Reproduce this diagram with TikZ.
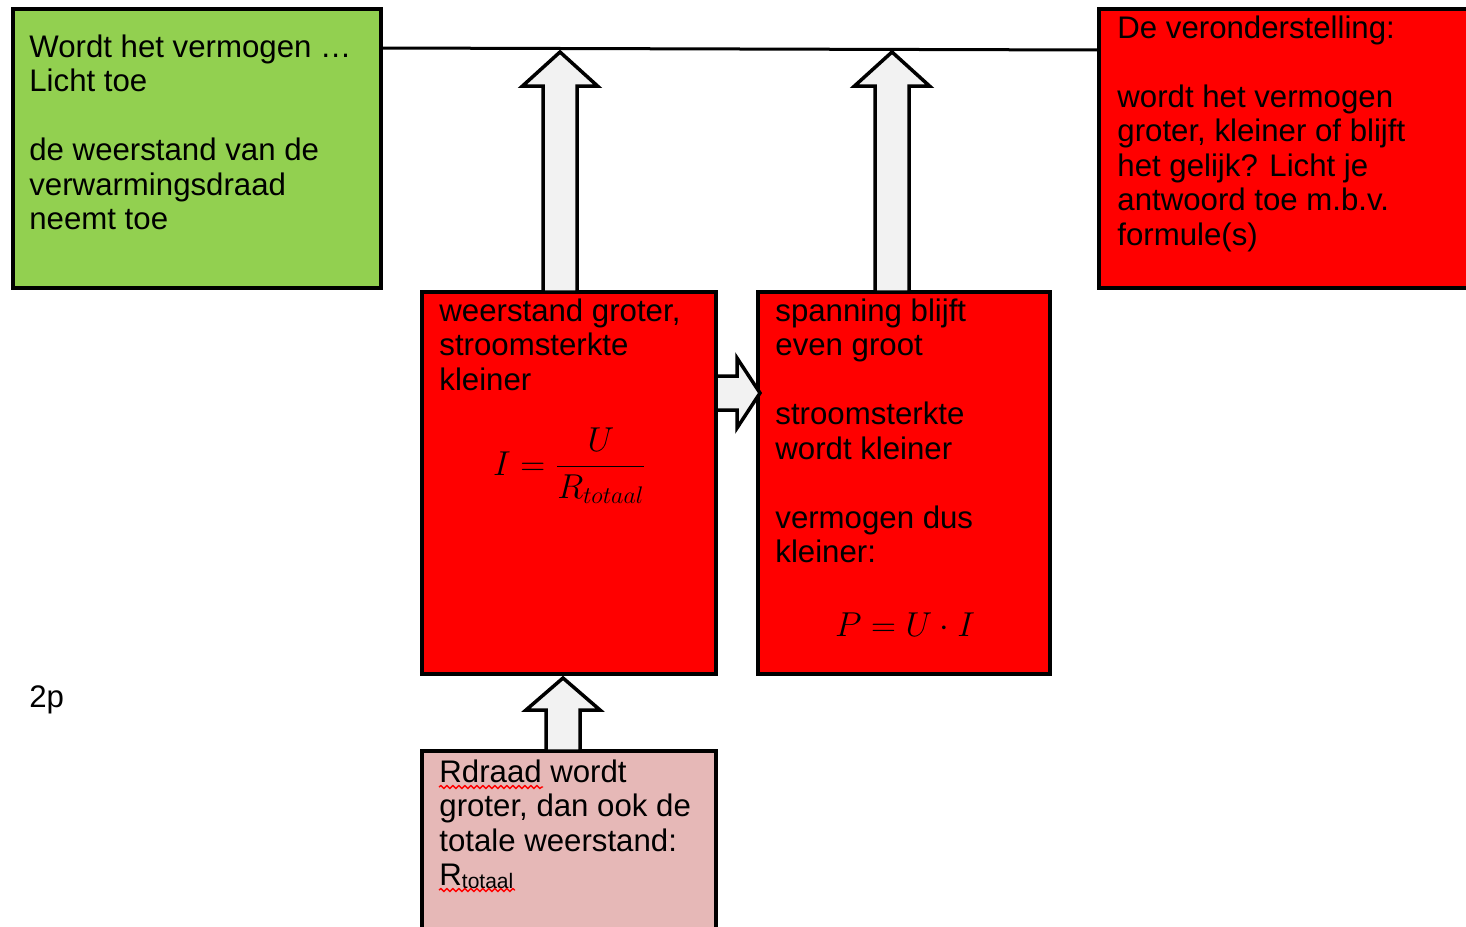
\documentclass[tikz,border=0pt]{standalone}
\usepackage{amsmath}
\usepackage{fontspec}
\setmainfont{Liberation Sans}
\usetikzlibrary{calc,decorations.pathmorphing}
\definecolor{gbox}{HTML}{92D050}
\definecolor{rbox}{HTML}{FF0000}
\definecolor{pbox}{HTML}{E6B8B7}
\definecolor{afill}{HTML}{F2F2F2}
\newcommand\blkup[5]{\draw[blk] ($(#1)+(-#3,0)$) -- ($(#2)+(-#3,#5)$) -- ($(#2)+(-#4,#5)$) -- (#2) -- ($(#2)+(#4,#5)$) -- ($(#2)+(#3,#5)$) -- ($(#1)+(#3,0)$) -- cycle;}
\newcommand\blkright[5]{\draw[blk] ($(#1)+(0,-#3)$) -- ($(#2)+(-#5,-#3)$) -- ($(#2)+(-#5,-#4)$) -- (#2) -- ($(#2)+(-#5,#4)$) -- ($(#2)+(-#5,#3)$) -- ($(#1)+(0,#3)$) -- cycle;}
\newcommand\fs{\vrule height 12pt width 0pt\relax}
\tikzset{
  box/.style={draw, line width=2pt, anchor=north west, inner sep=0pt, outer sep=0pt},
  blk/.style={draw, fill=afill, line width=1.75pt, line join=miter},
  txt/.style={anchor=north west, inner sep=0pt, align=left, font=\fontsize{15.6pt}{17.25pt}\selectfont},
  mth/.style={inner sep=0pt, font=\fontsize{16.5pt}{18pt}\selectfont},
  topline/.style={line width=1.5pt},
  spell/.style={red, line width=0.7pt, decorate, decoration={snake, amplitude=0.7pt, segment length=3pt}}
}
\begin{document}
\begin{tikzpicture}[x=0.5pt,y=-0.5pt]
\fill[white] (0,0) rectangle (1466,926);
\useasboundingbox (0,0) rectangle (1466,926);
% boxes
\node[box, fill=gbox, minimum width=184pt, minimum height=139.5pt] (green) at (13,9) {};
\node[box, fill=rbox, minimum width=200pt, minimum height=139.5pt] (redR) at (1099,9) {};
\node[box, fill=rbox, minimum width=147pt, minimum height=191pt] (midL) at (422,292) {};
\node[box, fill=rbox, minimum width=146pt, minimum height=191pt] (midR) at (758,292) {};
\node[box, fill=pbox, minimum width=147pt, minimum height=100pt] (pink) at (422,751) {};
% top line
\coordinate (lineL) at (383,48);
\coordinate (lineR) at (1097,50);
\draw[topline] (green.north east |- lineL) -- (redR.north west |- lineR);
% block arrows
\coordinate (a1b) at ($(midL.north west)+(138,0)$);
\coordinate (a1t) at (a1b |- 0,52);
\blkup{a1b}{a1t}{17}{37.5}{34}
\coordinate (a2b) at ($(midR.north west)+(134,0)$);
\coordinate (a2t) at (a2b |- 0,52);
\blkup{a2b}{a2t}{17}{37.5}{34}
\coordinate (a3b) at ($(midL.north east)+(0,101)$);
\coordinate (a3t) at ($(midR.north west)+(2,101)$);
\blkright{a3b}{a3t}{17}{35}{23}
\coordinate (a4b) at ($(pink.north west)+(141,0)$);
\coordinate (a4t) at ($(midL.south west)+(141,4)$);
\blkup{a4b}{a4t}{17}{37}{32}
% texts
\node[txt] (tg) at (29,33) {\fs Wordt het vermogen …\\Licht toe\\[17.25pt]de weerstand van de\\verwarmingsdraad\\neemt toe};
\node[txt] (tr) at (1117,14) {\fs De veronderstelling:\\[17.25pt]wordt het vermogen\\groter, kleiner of blijft\\het gelijk? Licht je\\antwoord toe m.b.v.\\formule(s)};
\node[txt] (tl) at (439,297) {\fs weerstand groter,\\stroomsterkte\\kleiner};
\node[mth] (f1) at (570,466) {$I = \dfrac{U}{R_{totaal}}$};
\node[txt] (tm) at (775,297) {\fs spanning blijft\\even groot\\[17.25pt]stroomsterkte\\wordt kleiner\\[17.25pt]vermogen dus\\kleiner:};
\node[mth] (f2) at (905,625) {$P = U \cdot I$};
\node[txt] (tp) at (439,758) {\fs Rdraad wordt\\groter, dan ook de\\totale weerstand:\\R\raisebox{-1.5pt}{\fontsize{10.5pt}{12pt}\selectfont totaal}};
\node[anchor=base west, inner sep=0pt, font=\fontsize{15.6pt}{17.25pt}\selectfont] (pts) at (29,707) {2p};
% spell-check underlines
\draw[spell] (439,787) -- (543,787);
\draw[spell] (439,890) -- (515,890);
\end{tikzpicture}
\end{document}
